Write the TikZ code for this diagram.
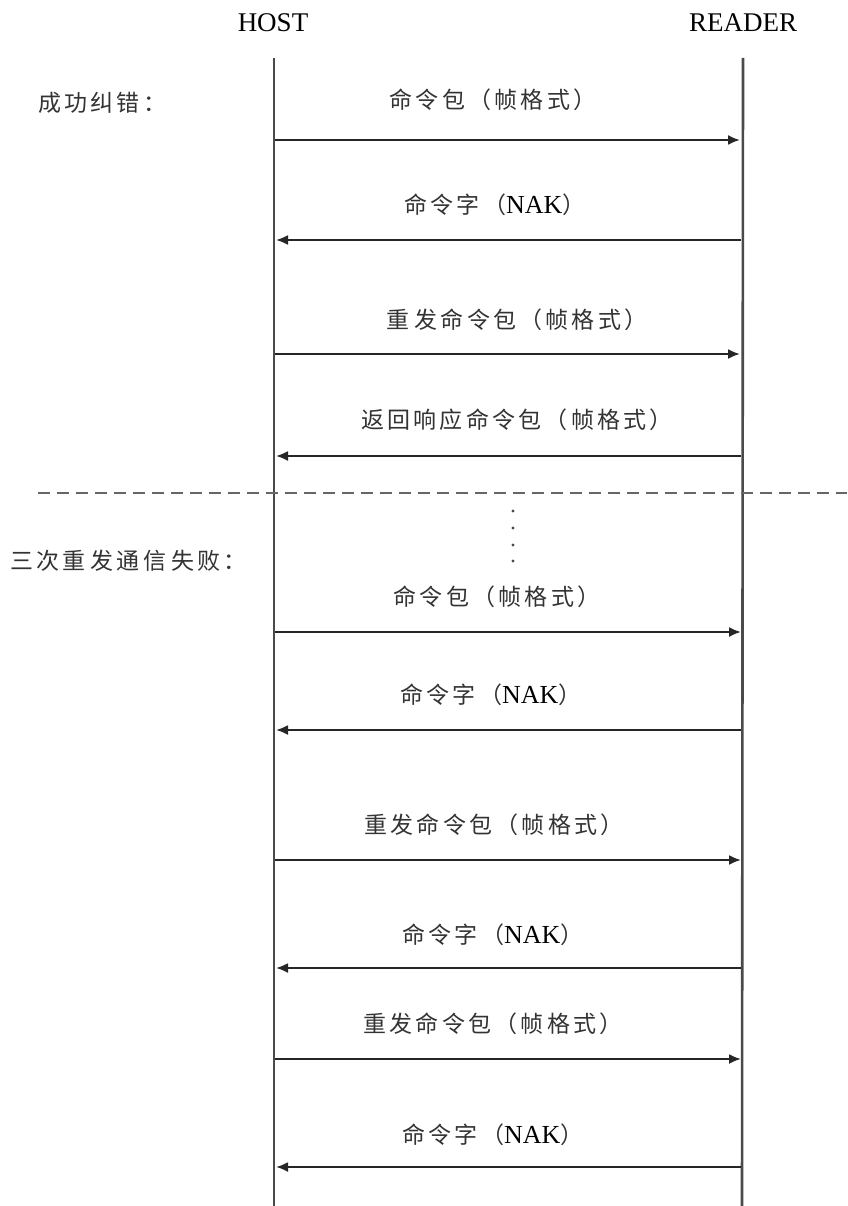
\documentclass[tikz,border=0pt]{standalone}
\usepackage{fontspec}
\setmainfont{Liberation Serif}
\newfontfamily\cjk[LetterSpace=14]{Noto Sans CJK SC}
\usetikzlibrary{arrows.meta}
\definecolor{lifegray}{HTML}{4A4A4A}
\definecolor{txtgray}{HTML}{333333}
\newcommand{\nak}{{\fontsize{26}{28}\selectfont\color{black}NAK}}
\begin{document}
\begin{tikzpicture}[x=1pt,y=-1pt,
  lifeline/.style={draw=lifegray,line width=2.6pt},
  msg/.style={draw=black!85,line width=2.1pt,-{Latex[length=12pt,width=10pt]}},
  lbl/.style={font=\fontsize{23}{25}\selectfont,text=txtgray,inner sep=0pt},
  head/.style={font=\fontsize{27}{29}\selectfont,text=black,inner sep=0pt},
  sep/.style={draw=gray!80!black,line width=2.8pt,dash pattern=on 12pt off 7pt}]
\useasboundingbox (0,0) rectangle (847,1206);
% headers
\node[head] (host) at (273,23) {HOST};
\node[head] (reader) at (743,23) {READER};
% lifelines
\coordinate (ht) at (274,58);
\coordinate (hb) at (274,1206);
\coordinate (rt) at (743,58);
\coordinate (rb) at (742,1206);
\draw[lifeline] (ht) -- (hb);
\draw[lifeline] (rt) -- (rb);
% section labels
\node[lbl,anchor=west] (s1) at (38,103) {\cjk 成功纠错：};
\node[lbl,anchor=west] (s2) at (10,561) {{\cjk 三次重}\hspace{5pt}{\cjk 发通信}\hspace{5pt}{\cjk 失败：}};
% separator
\coordinate (sepL) at (38,493);
\coordinate (sepR) at (847,493);
\draw[sep] (sepL) -- (sepR);
% dots
\foreach \yy in {511,528,545,561}{\fill[lifegray] (513,\yy) circle (1.7pt);}
% messages
\coordinate (h1) at (275,140); \coordinate (r1) at (740,140);
\coordinate (h2) at (276,240); \coordinate (r2) at (741,240);
\coordinate (h3) at (275,354); \coordinate (r3) at (740,354);
\coordinate (h4) at (276,456); \coordinate (r4) at (741,456);
\coordinate (h5) at (275,632); \coordinate (r5) at (741,632);
\coordinate (h6) at (276,730); \coordinate (r6) at (741,730);
\coordinate (h7) at (275,860); \coordinate (r7) at (741,860);
\coordinate (h8) at (276,968); \coordinate (r8) at (741,968);
\coordinate (h9) at (275,1059); \coordinate (r9) at (741,1059);
\coordinate (h10) at (276,1167); \coordinate (r10) at (741,1167);
\draw[msg] (h1) -- (r1);
\draw[msg] (r2) -- (h2);
\draw[msg] (h3) -- (r3);
\draw[msg] (r4) -- (h4);
\draw[msg] (h5) -- (r5);
\draw[msg] (r6) -- (h6);
\draw[msg] (h7) -- (r7);
\draw[msg] (r8) -- (h8);
\draw[msg] (h9) -- (r9);
\draw[msg] (r10) -- (h10);
% labels
\node[lbl] (l1) at (493,100) {\cjk 命令包（帧格式）};
\node[lbl] (l2) at (495,205) {{\cjk 命令字（}\nak{\cjk ）}};
\node[lbl] (l3) at (517,320) {{\cjk 重}\hspace{5pt}{\cjk 发命令包（帧格式）}};
\node[lbl] (l4) at (517,420) {\cjk 返回响应命令包（帧格式）};
\node[lbl] (l5) at (497,597) {\cjk 命令包（帧格式）};
\node[lbl] (l6) at (491,695) {{\cjk 命令字（}\nak{\cjk ）}};
\node[lbl] (l7) at (494,825) {\cjk 重发命令包（帧格式）};
\node[lbl] (l8) at (493,935) {{\cjk 命令字（}\nak{\cjk ）}};
\node[lbl] (l9) at (493,1024) {\cjk 重发命令包（帧格式）};
\node[lbl] (l10) at (493,1135) {{\cjk 命令字（}\nak{\cjk ）}};
\end{tikzpicture}
\end{document}
